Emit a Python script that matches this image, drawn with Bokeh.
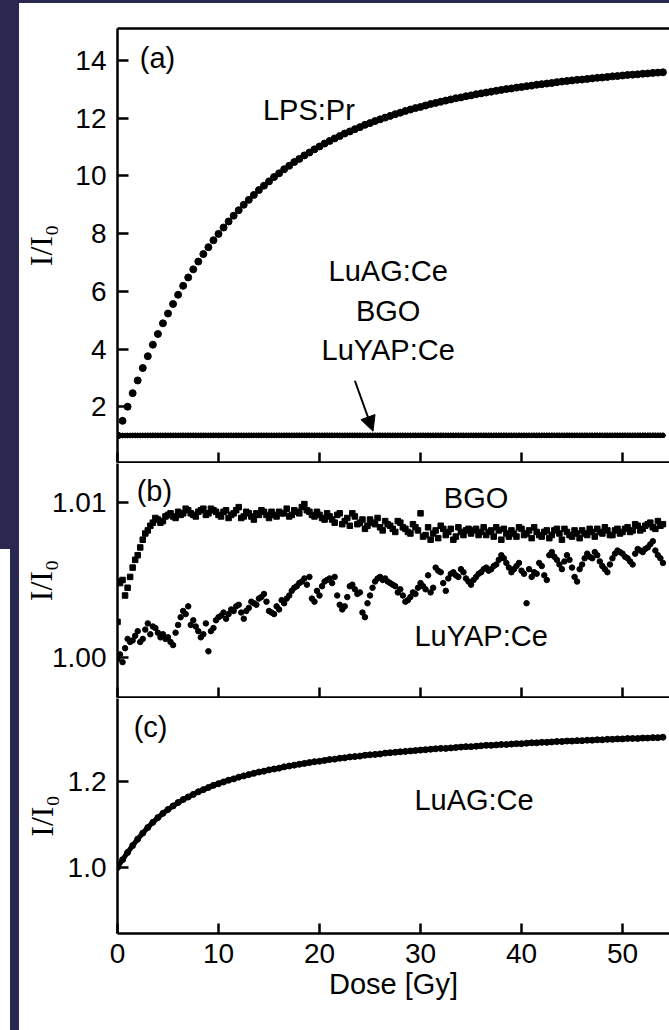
from bokeh.plotting import figure
from bokeh.models import (Range1d, FixedTicker, PrintfTickFormatter, LinearAxis,
                          Label, Arrow, NormalHead, Spacer)
from bokeh.layouts import column, row
from bokeh.embed import file_html
from bokeh.resources import INLINE

# ---------------- data ----------------
dose = [0.0, 0.5, 1.0, 1.5, 2.0, 2.5, 3.0, 3.5, 4.0, 4.5,
        5.0, 5.5, 6.0, 6.5, 7.0, 7.5, 8.0, 8.5, 9.0, 9.5,
        10.0, 10.5, 11.0, 11.5, 12.0, 12.5, 13.0, 13.5, 14.0, 14.5,
        15.0, 15.5, 16.0, 16.5, 17.0, 17.5, 18.0, 18.5, 19.0, 19.5,
        20.0, 20.5, 21.0, 21.5, 22.0, 22.5, 23.0, 23.5, 24.0, 24.5,
        25.0, 25.5, 26.0, 26.5, 27.0, 27.5, 28.0, 28.5, 29.0, 29.5,
        30.0, 30.5, 31.0, 31.5, 32.0, 32.5, 33.0, 33.5, 34.0, 34.5,
        35.0, 35.5, 36.0, 36.5, 37.0, 37.5, 38.0, 38.5, 39.0, 39.5,
        40.0, 40.5, 41.0, 41.5, 42.0, 42.5, 43.0, 43.5, 44.0, 44.5,
        45.0, 45.5, 46.0, 46.5, 47.0, 47.5, 48.0, 48.5, 49.0, 49.5,
        50.0, 50.5, 51.0, 51.5, 52.0, 52.5, 53.0, 53.5, 54.0]

dose_mid = [0.25, 0.75, 1.25, 1.75, 2.25, 2.75, 3.25, 3.75, 4.25, 4.75,
            5.25, 5.75, 6.25, 6.75, 7.25, 7.75, 8.25, 8.75, 9.25, 9.75,
            10.25, 10.75, 11.25, 11.75, 12.25, 12.75, 13.25, 13.75, 14.25, 14.75,
            15.25, 15.75, 16.25, 16.75, 17.25, 17.75, 18.25, 18.75, 19.25, 19.75,
            20.25, 20.75, 21.25, 21.75, 22.25, 22.75, 23.25, 23.75, 24.25, 24.75,
            25.25, 25.75, 26.25, 26.75, 27.25, 27.75, 28.25, 28.75, 29.25, 29.75,
            30.25, 30.75, 31.25, 31.75, 32.25, 32.75, 33.25, 33.75, 34.25, 34.75,
            35.25, 35.75, 36.25, 36.75, 37.25, 37.75, 38.25, 38.75, 39.25, 39.75,
            40.25, 40.75, 41.25, 41.75, 42.25, 42.75, 43.25, 43.75, 44.25, 44.75,
            45.25, 45.75, 46.25, 46.75, 47.25, 47.75, 48.25, 48.75, 49.25, 49.75,
            50.25, 50.75, 51.25, 51.75, 52.25, 52.75, 53.25, 53.75]

lps_pr = [1.00, 1.51, 2.00, 2.47, 2.91, 3.34, 3.75, 4.15, 4.52, 4.89,
          5.23, 5.56, 5.88, 6.19, 6.48, 6.76, 7.03, 7.29, 7.53, 7.77,
          7.99, 8.21, 8.42, 8.62, 8.81, 9.00, 9.17, 9.34, 9.51, 9.66,
          9.81, 9.96, 10.09, 10.23, 10.35, 10.48, 10.59, 10.71, 10.81, 10.92,
          11.02, 11.12, 11.21, 11.30, 11.38, 11.47, 11.54, 11.62, 11.69, 11.77,
          11.83, 11.90, 11.96, 12.02, 12.08, 12.14, 12.19, 12.25, 12.30, 12.35,
          12.39, 12.44, 12.49, 12.53, 12.57, 12.61, 12.65, 12.69, 12.72, 12.76,
          12.79, 12.83, 12.86, 12.89, 12.92, 12.95, 12.98, 13.01, 13.03, 13.06,
          13.08, 13.11, 13.13, 13.16, 13.18, 13.20, 13.22, 13.25, 13.27, 13.29,
          13.31, 13.33, 13.34, 13.36, 13.38, 13.40, 13.41, 13.43, 13.45, 13.46,
          13.48, 13.50, 13.51, 13.52, 13.54, 13.55, 13.57, 13.58, 13.59]

bgo = [1.0023, 1.0050, 1.0045, 1.0058, 1.0066, 1.0076, 1.0082, 1.0087, 1.0089, 1.0088,
       1.0092, 1.0091, 1.0094, 1.0093, 1.0095, 1.0092, 1.0094, 1.0096, 1.0093, 1.0095,
       1.0092, 1.0094, 1.0090, 1.0093, 1.0097, 1.0091, 1.0093, 1.0089, 1.0092, 1.0094,
       1.0090, 1.0092, 1.0094, 1.0093, 1.0091, 1.0095, 1.0093, 1.0099, 1.0094, 1.0091,
       1.0092, 1.0089, 1.0091, 1.0087, 1.0093, 1.0088, 1.0085, 1.0091, 1.0087, 1.0083,
       1.0089, 1.0086, 1.0084, 1.0088, 1.0085, 1.0081, 1.0087, 1.0083, 1.0080, 1.0084,
       1.0093, 1.0079, 1.0076, 1.0082, 1.0085, 1.0079, 1.0083, 1.0078, 1.0081, 1.0082,
       1.0080, 1.0083, 1.0081, 1.0079, 1.0082, 1.0084, 1.0076, 1.0080, 1.0082, 1.0078,
       1.0083, 1.0080, 1.0077, 1.0081, 1.0078, 1.0082, 1.0079, 1.0083, 1.0076, 1.0081,
       1.0078, 1.0080, 1.0082, 1.0079, 1.0081, 1.0083, 1.0080, 1.0082, 1.0079, 1.0083,
       1.0081, 1.0084, 1.0082, 1.0085, 1.0083, 1.0086, 1.0084, 1.0088, 1.0086]

bgo_mid = [1.0048, 1.0040, 1.0052, 1.0063, 1.0071, 1.0080, 1.0085, 1.0090, 1.0087, 1.0091,
           1.0093, 1.0090, 1.0092, 1.0096, 1.0093, 1.0091, 1.0095, 1.0092, 1.0096, 1.0094,
           1.0091, 1.0095, 1.0092, 1.0095, 1.0090, 1.0094, 1.0091, 1.0093, 1.0095, 1.0092,
           1.0094, 1.0091, 1.0093, 1.0096, 1.0092, 1.0094, 1.0097, 1.0095, 1.0092, 1.0094,
           1.0090, 1.0093, 1.0089, 1.0092, 1.0086, 1.0090, 1.0093, 1.0086, 1.0089, 1.0085,
           1.0087, 1.0090, 1.0082, 1.0086, 1.0083, 1.0088, 1.0084, 1.0081, 1.0086, 1.0082,
           1.0078, 1.0084, 1.0080, 1.0077, 1.0083, 1.0081, 1.0076, 1.0084, 1.0079, 1.0083,
           1.0082, 1.0079, 1.0084, 1.0081, 1.0078, 1.0082, 1.0083, 1.0078, 1.0080, 1.0084,
           1.0079, 1.0082, 1.0084, 1.0079, 1.0081, 1.0077, 1.0082, 1.0080, 1.0083, 1.0079,
           1.0082, 1.0077, 1.0080, 1.0083, 1.0078, 1.0081, 1.0084, 1.0079, 1.0082, 1.0080,
           1.0083, 1.0081, 1.0086, 1.0082, 1.0085, 1.0087, 1.0083, 1.0085]

luyap = [0.9999, 0.9997, 1.0012, 1.0011, 1.0017, 1.0012, 1.0022, 1.0020, 1.0016, 1.0015,
         1.0013, 1.0008, 1.0021, 1.0030, 1.0033, 1.0024, 1.0017, 1.0015, 1.0004, 1.0019,
         1.0026, 1.0029, 1.0028, 1.0030, 1.0034, 1.0025, 1.0032, 1.0035, 1.0038, 1.0041,
         1.0030, 1.0028, 1.0031, 1.0035, 1.0040, 1.0045, 1.0048, 1.0051, 1.0052, 1.0036,
         1.0040, 1.0049, 1.0051, 1.0052, 1.0034, 1.0033, 1.0046, 1.0044, 1.0042, 1.0026,
         1.0040, 1.0049, 1.0052, 1.0051, 1.0048, 1.0046, 1.0044, 1.0036, 1.0039, 1.0041,
         1.0048, 1.0044, 1.0042, 1.0058, 1.0055, 1.0043, 1.0054, 1.0053, 1.0057, 1.0051,
         1.0047, 1.0052, 1.0055, 1.0058, 1.0057, 1.0060, 1.0066, 1.0061, 1.0055, 1.0059,
         1.0056, 1.0035, 1.0052, 1.0054, 1.0059, 1.0050, 1.0068, 1.0063, 1.0057, 1.0066,
         1.0058, 1.0049, 1.0060, 1.0067, 1.0064, 1.0066, 1.0059, 1.0055, 1.0064, 1.0069,
         1.0067, 1.0064, 1.0060, 1.0070, 1.0068, 1.0071, 1.0075, 1.0066, 1.0061]

luyap_mid = [1.0002, 1.0006, 1.0010, 1.0014, 1.0010, 1.0018, 1.0015, 1.0019, 1.0013, 1.0012,
             1.0010, 1.0016, 1.0026, 1.0028, 1.0021, 1.0020, 1.0013, 1.0022, 1.0017, 1.0024,
             1.0027, 1.0025, 1.0031, 1.0033, 1.0029, 1.0030, 1.0036, 1.0034, 1.0039, 1.0036,
             1.0029, 1.0033, 1.0037, 1.0038, 1.0043, 1.0046, 1.0049, 1.0047, 1.0038, 1.0043,
             1.0046, 1.0050, 1.0048, 1.0040, 1.0031, 1.0039, 1.0047, 1.0041, 1.0029, 1.0035,
             1.0045, 1.0051, 1.0050, 1.0049, 1.0047, 1.0042, 1.0040, 1.0037, 1.0042, 1.0045,
             1.0046, 1.0053, 1.0045, 1.0056, 1.0048, 1.0051, 1.0055, 1.0052, 1.0055, 1.0049,
             1.0050, 1.0054, 1.0057, 1.0056, 1.0059, 1.0063, 1.0064, 1.0058, 1.0057, 1.0061,
             1.0054, 1.0057, 1.0055, 1.0061, 1.0053, 1.0066, 1.0065, 1.0060, 1.0062, 1.0063,
             1.0052, 1.0057, 1.0064, 1.0065, 1.0068, 1.0062, 1.0057, 1.0060, 1.0067, 1.0068,
             1.0065, 1.0062, 1.0067, 1.0069, 1.0070, 1.0073, 1.0069, 1.0064]

luag = [1.000, 1.018, 1.035, 1.051, 1.066, 1.080, 1.093, 1.105, 1.116, 1.126,
        1.135, 1.143, 1.151, 1.158, 1.164, 1.170, 1.176, 1.181, 1.186, 1.191,
        1.195, 1.199, 1.203, 1.206, 1.210, 1.213, 1.216, 1.219, 1.222, 1.224,
        1.227, 1.229, 1.231, 1.234, 1.236, 1.238, 1.240, 1.242, 1.244, 1.246,
        1.247, 1.249, 1.251, 1.252, 1.254, 1.255, 1.257, 1.258, 1.259, 1.261,
        1.262, 1.263, 1.264, 1.266, 1.267, 1.268, 1.269, 1.270, 1.271, 1.272,
        1.273, 1.274, 1.275, 1.276, 1.277, 1.277, 1.278, 1.279, 1.280, 1.281,
        1.281, 1.282, 1.283, 1.284, 1.284, 1.285, 1.286, 1.286, 1.287, 1.288,
        1.288, 1.289, 1.290, 1.290, 1.291, 1.291, 1.292, 1.293, 1.293, 1.294,
        1.294, 1.295, 1.295, 1.296, 1.296, 1.297, 1.297, 1.298, 1.298, 1.299,
        1.299, 1.300, 1.300, 1.300, 1.301, 1.301, 1.302, 1.302, 1.303]

x_ticks = [0, 10, 20, 30, 40, 50]
ticks_a = [2, 4, 6, 8, 10, 12, 14]
ticks_b = [1.00, 1.01]
minor_b = [1.005]
ticks_c = [1.0, 1.2]

# ---------------- style ----------------
DARK = "#2a2850"
SANS = "Liberation Sans"
SERIF = "Liberation Serif"
LW = 2.5
TICK_FS = "28px"
TEXT_FS = "29px"

xr = Range1d(0, 54.65)


def make_fig(height, yr, top, bottom):
    p = figure(width=650, height=height, x_range=xr, y_range=yr,
               output_backend="svg", toolbar_location=None,
               min_border_left=98, min_border_right=0,
               min_border_top=top, min_border_bottom=bottom)
    p.outline_line_color = None
    p.xgrid.visible = False
    p.ygrid.visible = False
    p.background_fill_color = "white"
    p.border_fill_color = "white"
    return p


def style_x(p, labels):
    xa = p.xaxis[0]
    xa.axis_line_width = LW
    xa.axis_line_color = "black"
    xa.major_tick_out = 0
    xa.minor_tick_out = 0
    if labels:
        xa.ticker = FixedTicker(ticks=x_ticks)
        xa.major_tick_in = 10
        xa.minor_tick_in = 0
        xa.major_tick_line_width = LW
        xa.major_tick_line_color = "black"
        xa.major_label_text_font = SANS
        xa.major_label_text_font_size = TICK_FS
        xa.major_label_text_color = "black"
        xa.major_label_standoff = 10
        xa.axis_label = "Dose [Gy]"
        xa.axis_label_text_font = SANS
        xa.axis_label_text_font_size = TEXT_FS
        xa.axis_label_text_font_style = "normal"
        xa.axis_label_text_color = "black"
        xa.axis_label_standoff = 2
    else:
        # tick marks only (no labels): ticks drawn as un-labelled minor ticks
        xa.ticker = FixedTicker(ticks=[], minor_ticks=x_ticks)
        xa.major_tick_in = 0
        xa.minor_tick_in = 10
        xa.minor_tick_line_width = LW
        xa.minor_tick_line_color = "black"
        xa.major_label_standoff = 0


def style_y(p, ticks, fmt, standoff, minor=None):
    ya = p.yaxis[0]
    ya.ticker = FixedTicker(ticks=ticks, minor_ticks=minor or [])
    ya.formatter = PrintfTickFormatter(format=fmt)
    ya.major_tick_in = 11
    ya.major_tick_out = 0
    ya.minor_tick_in = 6 if minor else 0
    ya.minor_tick_out = 0
    ya.axis_line_width = LW
    ya.major_tick_line_width = LW
    ya.minor_tick_line_width = 2
    ya.axis_line_color = "black"
    ya.major_tick_line_color = "black"
    ya.minor_tick_line_color = "black"
    ya.major_label_text_font = SANS
    ya.major_label_text_font_size = TICK_FS
    ya.major_label_text_color = "black"
    ya.major_label_standoff = 11
    ya.axis_label = "I/I\u2080"
    ya.axis_label_text_font = SERIF
    ya.axis_label_text_font_size = "32px"
    ya.axis_label_text_font_style = "normal"
    ya.axis_label_text_color = "black"
    ya.axis_label_standoff = standoff


def add_text(p, x, y, text, align="center", baseline="middle"):
    p.add_layout(Label(x=x, y=y, text=text, text_font=SANS,
                       text_font_size=TEXT_FS, text_color="black",
                       text_align=align, text_baseline=baseline))


# ---------------- panel (a) ----------------
pa = make_fig(460, Range1d(0.066, 15.109), 25, 1)
style_x(pa, False)
style_y(pa, ticks_a, "%d", 13)
top_axis = LinearAxis(ticker=FixedTicker(ticks=[]),
                      major_tick_in=0, major_tick_out=0, minor_tick_in=0, minor_tick_out=0,
                      major_label_standoff=0, axis_line_width=LW, axis_line_color="black")
pa.add_layout(top_axis, "above")
pa.scatter(dose + dose_mid, bgo + bgo_mid, marker="circle", size=4.5, color="black")
pa.scatter(dose + dose_mid, luyap + luyap_mid, marker="circle", size=4.5, color="black")
pa.scatter(dose, lps_pr, marker="circle", size=7, color="black")
add_text(pa, 2.2, 14.07, "(a)", align="left")
add_text(pa, 14.4, 12.30, "LPS:Pr", align="left", baseline="alphabetic")
add_text(pa, 26.8, 6.72, "LuAG:Ce", baseline="alphabetic")
add_text(pa, 26.8, 5.33, "BGO", baseline="alphabetic")
add_text(pa, 26.8, 3.95, "LuYAP:Ce", baseline="alphabetic")
pa.add_layout(Arrow(end=NormalHead(size=15, fill_color="black", line_color="black"),
                    x_start=23.5, y_start=2.9, x_end=25.3, y_end=1.15,
                    line_width=2, line_color="black"))

# ---------------- panel (b) ----------------
pb = make_fig(235, Range1d(0.997419, 1.012516), 0, 1)
style_x(pb, False)
style_y(pb, ticks_b, "%.2f", -10, minor_b)
pb.scatter(dose + dose_mid, bgo + bgo_mid, marker="square", size=5.5, color="black")
pb.scatter(dose + dose_mid, luyap + luyap_mid, marker="circle", size=5.5, color="black")
add_text(pb, 1.9, 1.01077, "(b)", align="left")
add_text(pb, 35.5, 1.0103, "BGO")
add_text(pb, 36.0, 1.0014, "LuYAP:Ce")

# ---------------- panel (c) ----------------
pc = make_fig(332, Range1d(0.84651, 1.3930), 0, 97)
style_x(pc, True)
style_y(pc, ticks_c, "%.1f", 5)
pc.line(dose, luag, line_width=5, color="black")
pc.scatter(dose, luag, marker="circle", size=6, color="black")
add_text(pc, 1.6, 1.3256, "(c)", align="left")
add_text(pc, 35.3, 1.158, "LuAG:Ce")

# ---------------- page layout with slide background strips ----------------
left_col = column(Spacer(width=10, height=549, styles={"background-color": DARK}),
                  Spacer(width=10, height=481, styles={"background-color": "white"}))
strip = Spacer(width=9, height=1030, styles={"background-color": DARK})
right_col = column(Spacer(width=650, height=3, styles={"background-color": DARK}),
                   pa, pb, pc)
layout = row(left_col, strip, right_col)

open("out.html", "w").write(file_html(layout, INLINE))
